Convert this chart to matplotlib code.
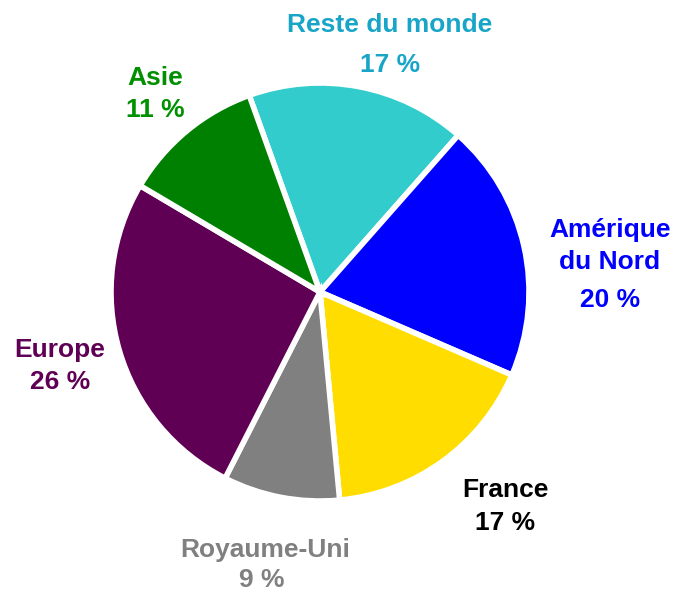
import matplotlib.pyplot as plt

plt.rcParams['font.family'] = ['Liberation Sans', 'DejaVu Sans']

regions = ['Reste du monde', 'Amérique\ndu Nord', 'France', 'Royaume-Uni', 'Europe', 'Asie']
shares = [17, 20, 17, 9, 26, 11]
colors = ['#33cccc', '#0000ff', '#ffdd00', '#808080', '#5f0055', '#008000']
text_colors = ['#18a5c8', '#0000ff', '#000000', '#808080', '#5f0055', '#009000']
# label anchor positions in pixels (x, y from top)
label_pos = [(390, 25), (610, 246), (505, 490), (265, 550), (60, 350), (155, 78)]
pct_pos = [(390, 65), (610, 300), (505, 523), (262, 580), (60, 382), (155, 110)]

W, H = 677, 595
fig = plt.figure(figsize=(W / 100, H / 100), dpi=100)
ax = fig.add_axes([0, 0, 1, 1])

ax.pie(shares, colors=colors, startangle=109.8, counterclock=False,
       center=(320, H - 292), radius=209, frame=True,
       wedgeprops=dict(edgecolor='white', linewidth=4))
ax.set_xlim(0, W)
ax.set_ylim(0, H)
ax.set_aspect('equal')
ax.axis('off')

for name, v, c, (lx, ly), (px, py) in zip(regions, shares, text_colors, label_pos, pct_pos):
    ax.text(lx, H - ly, name, color=c, fontsize=19, fontweight='bold',
            ha='center', va='center', linespacing=1.4)
    ax.text(px, H - py, f'{v} %', color=c, fontsize=19, fontweight='bold',
            ha='center', va='center')

fig.savefig('out.png', dpi=100)
